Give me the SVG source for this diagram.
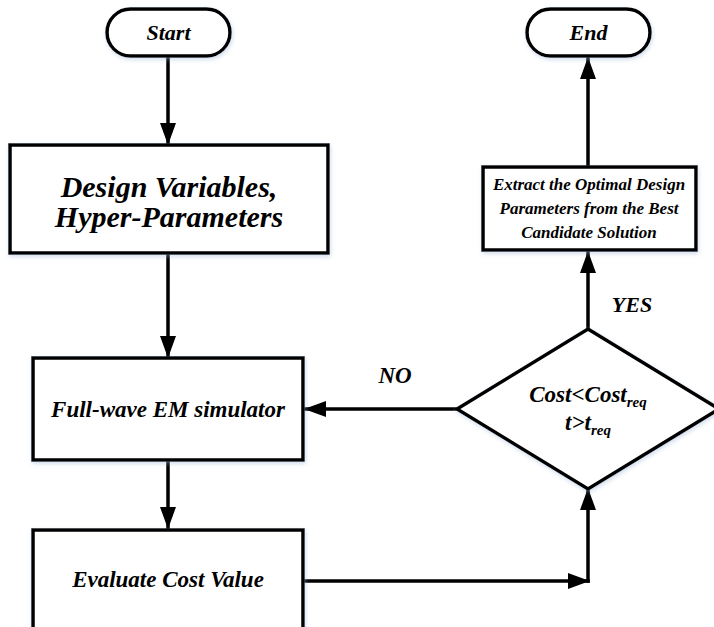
<svg xmlns="http://www.w3.org/2000/svg" width="714" height="627" viewBox="0 0 714 627">
<style>
.shape{fill:#fff;stroke:#000;stroke-width:3.5;filter:url(#sh)}
.conn{fill:none;stroke:#000;stroke-width:3.5;marker-end:url(#ah)}
.line{fill:none;stroke:#000;stroke-width:3.5}
.t{font-family:"Liberation Serif","Times New Roman",serif;font-weight:bold;font-style:italic;fill:#000;text-anchor:middle}
</style>
<defs>
<filter id="sh" x="-10%" y="-10%" width="120%" height="130%">
<feDropShadow dx="1" dy="2" stdDeviation="2" flood-color="#9bb3d6" flood-opacity="0.45"/>
</filter>
<marker id="ah" markerUnits="userSpaceOnUse" markerWidth="22" markerHeight="16" refX="22" refY="8" orient="auto">
<path d="M0,0 L22,8 L0,16 z" fill="#000"/>
</marker>
</defs>
<rect width="714" height="627" fill="#fff"/>
<g id="connectors">
<line class="conn" x1="168" y1="56" x2="168" y2="145"/>
<line class="conn" x1="168" y1="253" x2="168" y2="358"/>
<line class="conn" x1="168" y1="460" x2="168" y2="529"/>
<line class="conn" x1="303" y1="581" x2="589.75" y2="581"/>
<line class="conn" x1="588" y1="582.75" x2="588" y2="488"/>
<line class="conn" x1="457" y1="409" x2="304" y2="409"/>
<line class="conn" x1="588" y1="329" x2="588" y2="251"/>
<line class="conn" x1="588" y1="167" x2="588" y2="57"/>
<text class="t" x="395" y="383" font-size="23">NO</text>
<text class="t" x="632" y="312" font-size="22">YES</text>
</g>
<g id="start">
<rect class="shape" x="107" y="9" width="123" height="47" rx="23.5"/>
<text class="t" x="168.5" y="40" font-size="22">Start</text>
</g>
<g id="end">
<rect class="shape" x="527" y="9" width="123" height="47" rx="23.5"/>
<text class="t" x="588.5" y="40" font-size="22">End</text>
</g>
<g id="design">
<rect class="shape" x="10" y="145" width="318" height="108"/>
<text class="t" x="169" y="197" font-size="30">Design Variables,</text>
<text class="t" x="169" y="227" font-size="30">Hyper-Parameters</text>
</g>
<g id="fullwave">
<rect class="shape" x="33" y="358" width="270" height="102"/>
<text class="t" x="168" y="417" font-size="23">Full-wave EM simulator</text>
</g>
<g id="evaluate">
<rect class="shape" x="33" y="530" width="270" height="112"/>
<text class="t" x="168" y="587" font-size="23">Evaluate Cost Value</text>
</g>
<g id="extract">
<rect class="shape" x="483" y="167" width="213" height="83"/>
<text class="t" x="589" y="190" font-size="17">Extract the Optimal Design</text>
<text class="t" x="589" y="214" font-size="17">Parameters from the Best</text>
<text class="t" x="589" y="238" font-size="17">Candidate Solution</text>
</g>
<g id="decision">
<polygon class="shape" points="588,329 719,409 588,489 457,409"/>
<text class="t" x="588" y="402" font-size="23">Cost&lt;Cost<tspan font-size="15" dy="5">req</tspan></text>
<text class="t" x="588" y="430" font-size="23">t&gt;t<tspan font-size="15" dy="5">req</tspan></text>
</g>
</svg>
